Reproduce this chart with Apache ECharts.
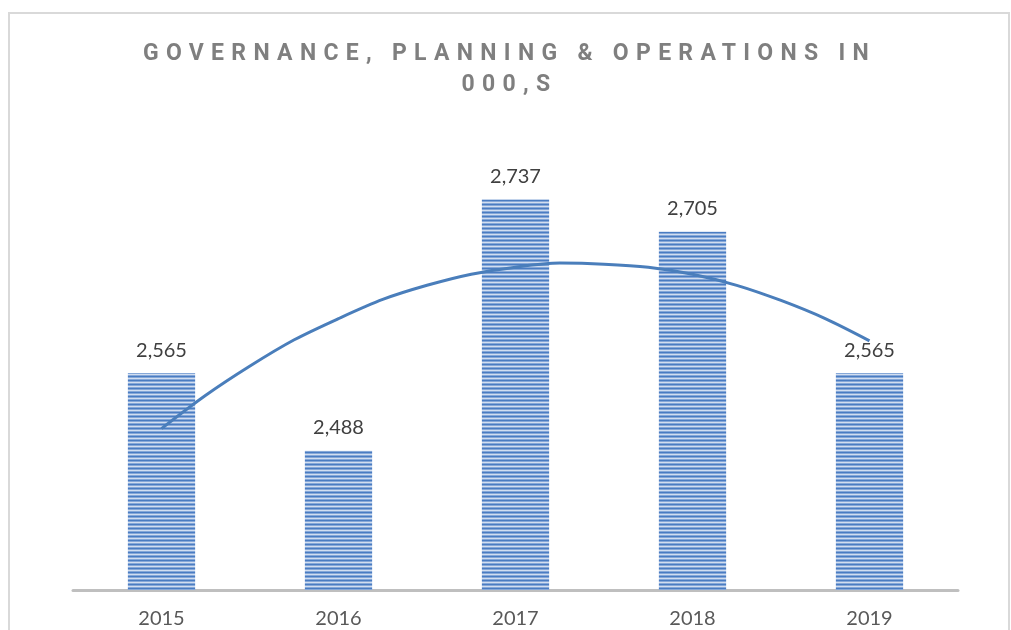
<!DOCTYPE html>
<html>
<head>
<meta charset="utf-8">
<script src="https://cdn.jsdelivr.net/npm/echarts@6/dist/echarts.min.js"></script>
<style>
  html, body { margin: 0; padding: 0; background: #fff; }
  #wrap { position: relative; width: 1011px; height: 630px; overflow: hidden; }
  #grafico { width: 1011px; height: 630px; }
  #titulo {
    position: absolute; left: 0; top: 37px; width: 1011px; padding-left: 8px; box-sizing: border-box;
    text-align: center; font-family: Roboto, "Liberation Sans", sans-serif; font-weight: 700;
    font-size: 23px; line-height: 31px; letter-spacing: 7.3px; color: #7f7f7f;
  }
</style>
</head>
<body>
<div id="wrap">
  <div id="grafico"></div>
  <div id="titulo">GOVERNANCE, PLANNING &amp; OPERATIONS IN<br>000,S</div>
</div>
<script>
// dados
var anos = ["2015", "2016", "2017", "2018", "2019"];
var valores = [2565, 2488, 2737, 2705, 2565];
// linha de tendencia (posicao 1 = 2015 ... 5 = 2019)
var tendenciaX = [1, 1.25, 1.5, 1.75, 2, 2.25, 2.5, 2.75, 3, 3.25, 3.5, 3.75, 4, 4.25, 4.5, 4.75, 5];
var tendenciaY = [2510, 2543, 2572, 2598, 2619, 2638, 2652, 2663, 2670, 2674, 2673, 2670, 2663, 2652, 2637, 2619, 2597];

// padrao listrado das barras
function criarPadrao() {
    var c = document.createElement("canvas");
    c.width = 4;
    c.height = 4;
    var ctx = c.getContext("2d");
    var cores = ["#4a7cc2", "#86a8d8", "#d2def0", "#86a8d8"];
    cores.forEach((cor, i) => {
        ctx.fillStyle = cor;
        ctx.fillRect(0, i, 4, 1);
    });
    return c;
}

var myChart = echarts.init(document.getElementById("grafico"));

var option = {
    animation: false,
    graphic: [
        {
            type: "rect",
            shape: { x: 9, y: 13, width: 1000, height: 640 },
            style: { fill: "none", stroke: "#d9d9d9", lineWidth: 2 },
            silent: true
        }
    ],
    grid: { left: 73, right: 53, top: 136, bottom: 40 },
    xAxis: [
        {
            type: "category",
            data: anos,
            axisLine: { lineStyle: { color: "#bfbfbf", width: 3 } },
            axisTick: { show: false },
            axisLabel: {
                color: "#595959",
                fontFamily: "Lato",
                fontSize: 20,
                margin: 19
            }
        },
        {
            // eixo auxiliar para a tendencia
            type: "value",
            min: 0.5,
            max: 5.5,
            show: false,
            splitLine: { show: false }
        }
    ],
    yAxis: {
        type: "value",
        min: 2350,
        max: 2800,
        show: false,
        splitLine: { show: false }
    },
    series: [
        {
            name: "valores",
            type: "bar",
            data: valores,
            barWidth: "38%",
            itemStyle: {
                color: { image: criarPadrao(), repeat: "repeat" }
            },
            label: {
                show: true,
                position: "top",
                distance: 13,
                color: "#404040",
                fontFamily: "Lato",
                fontSize: 20,
                formatter: p => p.value.toLocaleString("en-US")
            }
        },
        {
            name: "tendencia",
            type: "line",
            xAxisIndex: 1,
            data: tendenciaX.map((x, i) => [x, tendenciaY[i]]),
            smooth: 0.3,
            symbol: "none",
            lineStyle: { color: "#4a7ebb", width: 3 },
            z: 5
        }
    ]
};

myChart.setOption(option);
</script>
</body>
</html>
